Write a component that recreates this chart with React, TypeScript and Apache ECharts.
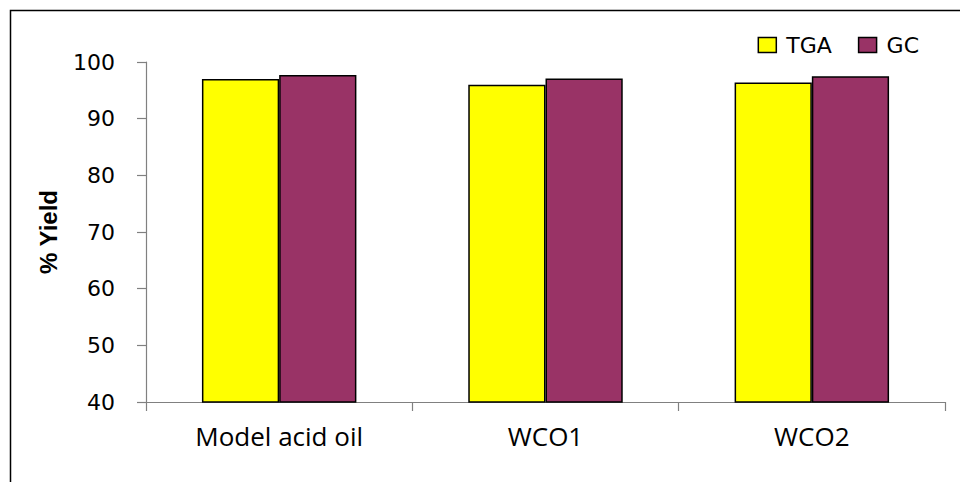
import React, { useEffect, useRef } from "react";
import * as echarts from "echarts";

const categories = ["Model acid oil", "WCO1", "WCO2"];
const tgaValues = [97.0, 96.0, 96.4];
const gcValues = [97.7, 97.1, 97.5];
const yTicks = { min: 40, max: 100, interval: 10 };

export default function App() {
  const ref = useRef<HTMLDivElement>(null);

  useEffect(() => {
    if (!ref.current) return;
    const chart = echarts.init(ref.current, null, { renderer: "svg" });
    const axisGrey = "#808080";
    chart.setOption({
      animation: false,
      backgroundColor: "#ffffff",
      graphic: [
        {
          type: "rect",
          shape: { x: 10.5, y: 10.5, width: 980, height: 500 },
          style: { fill: "none", stroke: "#000000", lineWidth: 1.5 },
          silent: true,
        },
      ],
      legend: {
        top: 29,
        right: 36,
        icon: "rect",
        itemWidth: 18,
        itemHeight: 15,
        itemGap: 26,
        textStyle: {
          fontFamily: "DejaVu Sans",
          fontSize: 22,
          color: "#000",
          padding: [0, 0, 0, 5],
        },
        data: [
          { name: "TGA", itemStyle: { borderColor: "#000", borderWidth: 1.5 } },
          { name: "GC", itemStyle: { borderColor: "#000", borderWidth: 1.5 } },
        ],
      },
      grid: { left: 146, right: 15, top: 62, bottom: 80, containLabel: false },
      xAxis: {
        type: "category",
        data: categories,
        axisLine: { lineStyle: { color: axisGrey, width: 1.2 } },
        axisTick: { show: true, length: 9, alignWithLabel: false, lineStyle: { color: axisGrey, width: 1.2 } },
        axisLabel: {
          margin: 21,
          fontFamily: "Open Sans",
          fontSize: 26,
          color: "#000",
        },
      },
      yAxis: {
        type: "value",
        min: yTicks.min,
        max: yTicks.max,
        interval: yTicks.interval,
        name: "% Yield",
        nameLocation: "middle",
        nameGap: 86,
        nameTextStyle: {
          fontFamily: "Liberation Sans",
          fontWeight: "bold",
          fontSize: 24,
          color: "#000",
        },
        axisLine: { show: true, lineStyle: { color: axisGrey, width: 1.2 } },
        axisTick: { show: true, length: 9, lineStyle: { color: axisGrey, width: 1.2 } },
        splitLine: { show: false },
        axisLabel: {
          margin: 31,
          fontFamily: "DejaVu Sans",
          fontSize: 22,
          color: "#000",
        },
      },
      series: [
        {
          name: "TGA",
          type: "bar",
          data: tgaValues,
          barGap: "0%",
          barCategoryGap: "42%",
          itemStyle: { color: "#FFFF00", borderColor: "#000", borderWidth: 1.5 },
        },
        {
          name: "GC",
          type: "bar",
          data: gcValues,
          barGap: "0%",
          barCategoryGap: "42%",
          itemStyle: { color: "#993366", borderColor: "#000", borderWidth: 1.5 },
        },
      ],
    });
    return () => chart.dispose();
  }, []);

  return (
    <div
      ref={ref}
      style={{ position: "absolute", left: 0, top: 0, width: 960, height: 482 }}
    />
  );
}
